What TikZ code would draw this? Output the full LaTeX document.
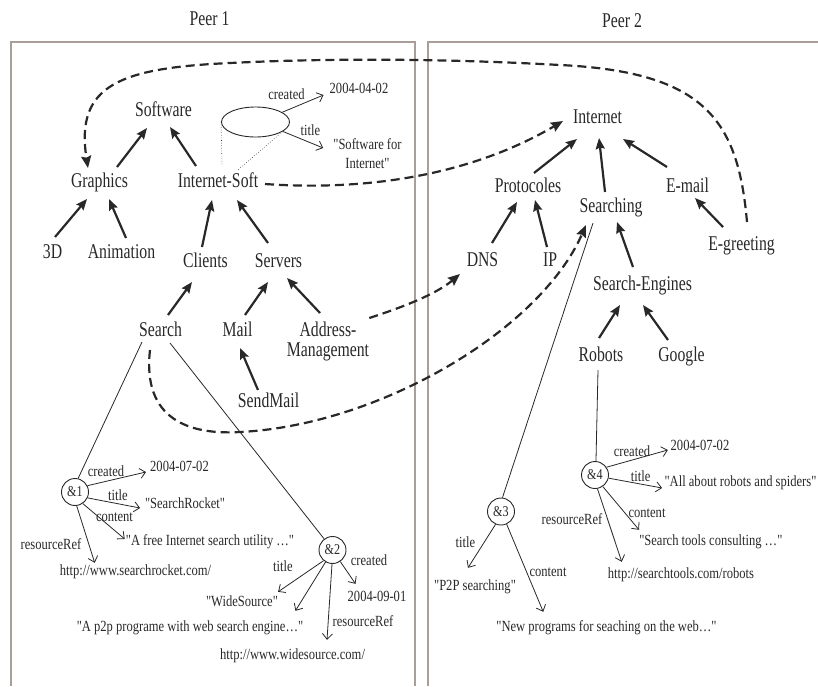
\documentclass[tikz,border=0pt]{standalone}
\usepackage{fontspec}
\setmainfont{Liberation Serif}[FakeStretch=0.75]
\newfontfamily\smallfont{Liberation Serif}[FakeStretch=0.81]
\usetikzlibrary{arrows.meta,calc,shapes.geometric}
\definecolor{ink}{RGB}{40,40,40}
\definecolor{framec}{RGB}{170,158,152}
\tikzset{
  lbl/.style={font=\fontsize{21}{19.5}\selectfont, text=ink, inner sep=0pt, text height=13pt, text depth=4pt, anchor=base},
  sml/.style={font=\smallfont\fontsize{15.5}{19.5}\selectfont, text=ink, inner sep=0pt, text height=10pt, text depth=3pt, anchor=base},
  amp/.style={circle, draw=ink, line width=0.9pt, minimum size=27pt, inner sep=0pt, font=\smallfont\fontsize{15}{15}\selectfont, text=ink},
  mainarrow/.style={draw=ink, line width=2.2pt, -{Stealth[length=11pt,width=9pt,inset=1.5pt]}},
  dasharrow/.style={draw=ink, line width=2.2pt, dash pattern=on 9pt off 5pt, -{Stealth[length=12pt,width=10pt,inset=1.5pt]}},
  thinline/.style={draw=ink, line width=0.8pt},
  thinarrow/.style={draw=ink, line width=0.8pt, -{Straight Barb[length=5.5pt,width=10pt]}},
  dotline/.style={draw=ink, line width=0.6pt, dotted},
  panel/.style={draw=framec, line width=1.2pt}
}
\begin{document}
\begin{tikzpicture}[x=1pt,y=-1pt]
\useasboundingbox (0,0) rectangle (818,686);
% panels
\draw[panel] (11,686) -- (11,42) -- (415,42) -- (415,686);
\draw[panel] (428,686) -- (428,42) -- (818,42);
% peer titles
\node[lbl] (peer1) at (209.5,25) {Peer 1};
\node[lbl] (peer2) at (622,27) {Peer 2};
% peer 1 nodes
\node[lbl] (soft) at (163.5,116) {Software};
\node[lbl] (graphics) at (99.5,187) {Graphics};
\node[lbl] (isoft) at (218,187) {Internet-Soft};
\node[lbl] (d3) at (52.5,258) {3D};
\node[lbl] (anim) at (121.5,258) {Animation};
\node[lbl] (clients) at (205.5,267) {Clients};
\node[lbl] (servers) at (278.5,267) {Servers};
\node[lbl] (search) at (160.5,336) {Search};
\node[lbl] (mail) at (237.5,336) {Mail};
\node[font=\fontsize{21}{19.5}\selectfont, text=ink, inner sep=0pt, align=center, anchor=north] (addr) at (328,322) {Address-\\Management};
\node[lbl] (sendmail) at (268.5,407) {SendMail};
% peer 2 nodes
\node[lbl] (internet) at (597.5,123) {Internet};
\node[lbl] (protocoles) at (528,192) {Protocoles};
\node[lbl] (email) at (687.5,192) {E-mail};
\node[lbl] (searching) at (611,212) {Searching};
\node[lbl] (egreet) at (741.5,250.5) {E-greeting};
\node[lbl] (dns) at (482.5,266) {DNS};
\node[lbl] (ip) at (550,266) {IP};
\node[lbl] (seng) at (642.5,290) {Search-Engines};
\node[lbl] (robots) at (601,361) {Robots};
\node[lbl] (google) at (681.5,361) {Google};
% ellipse with metadata
\node[ellipse, draw=ink, line width=0.9pt, minimum width=68pt, minimum height=30pt, inner sep=0pt] (ell) at (255.5,122) {};
\node[sml] (lc0) at (286.5,99) {created};
\node[sml] (lt0) at (310.5,135) {title};
\node[sml] (vdate0) at (359,93) {2004-04-02};
\node[font=\smallfont\fontsize{15.5}{19.5}\selectfont, text=ink, inner sep=0pt, align=center, anchor=north] (vsoftint) at (367.5,138) {"Software for\\Internet"};
% resource circles
\node[amp] (amp1) at (75,492) {\&1};
\node[amp] (amp2) at (332.5,550) {\&2};
\node[amp] (amp3) at (501,511.5) {\&3};
\node[amp] (amp4) at (595,475) {\&4};
% &1 labels and values
\node[sml] (l1c) at (106,476) {created};
\node[sml] (v1c) at (179.5,471.7) {2004-07-02};
\node[sml] (l1t) at (118,500) {title};
\node[sml] (v1t) at (185,508) {"SearchRocket"};
\node[sml] (l1x) at (114.5,521.7) {content};
\node[sml] (v1x) at (210,545) {"A free Internet search utility \ldots"};
\node[sml] (l1r) at (51,549) {resourceRef};
\node[sml] (v1r) at (135.5,575) {http://www.searchrocket.com/};
% &2
\node[sml] (l2t) at (283,571.7) {title};
\node[sml] (l2c) at (369,565.7) {created};
\node[sml] (v2t) at (242,606) {"WideSource"};
\node[sml] (v2c) at (377,601.7) {2004-09-01};
\node[sml] (v2x) at (190,631) {"A p2p programe with web search engine\ldots"};
\node[sml] (l2r) at (363,626.7) {resourceRef};
\node[sml] (v2r) at (292.5,659) {http://www.widesource.com/};
% &3
\node[sml] (l3t) at (465.5,547.7) {title};
\node[sml] (v3t) at (475,590.5) {"P2P searching"};
\node[sml] (l3x) at (548,576.7) {content};
\node[sml] (v3x) at (606.5,631) {"New programs for seaching on the web\ldots"};
% &4
\node[sml] (l4c) at (632,456) {created};
\node[sml] (v4c) at (700,450) {2004-07-02};
\node[sml] (l4t) at (640.7,481.7) {title};
\node[sml] (v4t) at (740.5,486) {"All about robots and spiders"};
\node[sml] (l4r) at (572,524) {resourceRef};
\node[sml] (l4x) at (647,517.7) {content};
\node[sml] (v4x) at (710.8,545) {"Search tools consulting \ldots"};
\node[sml] (v4r) at (681,578) {http://searchtools.com/robots};
% main arrows peer 1
\draw[mainarrow] ($(d3)+(2.5,-16.5)$) -- ($(graphics)+(-12.5,16.5)$);
\draw[mainarrow] ($(anim)+(4.5,-15.5)$) -- ($(graphics)+(9.5,16.5)$);
\draw[mainarrow] ($(graphics)+(17.5,-15.5)$) -- ($(soft)+(-16.5,16.5)$);
\draw[mainarrow] ($(isoft)+(-22,-16.5)$) -- ($(soft)+(6.5,15.5)$);
\draw[mainarrow] ($(clients)+(-3.5,-15.5)$) -- ($(isoft)+(-6,17.5)$);
\draw[mainarrow] ($(servers)+(-10.5,-19.5)$) -- ($(isoft)+(19,17.5)$);
\draw[mainarrow] ($(search)+(7.5,-16.5)$) -- ($(clients)+(-13.5,19.5)$);
\draw[mainarrow] ($(mail)+(7.5,-16.5)$) -- ($(servers)+(-10.5,19.5)$);
\draw[mainarrow] ($(addr.north)+(-8,-9)$) -- ($(servers)+(8.5,15.5)$);
\draw[mainarrow] ($(sendmail)+(-10.5,-12.5)$) -- ($(mail)+(2.5,16.5)$);
% main arrows peer 2
\draw[mainarrow] ($(protocoles)+(6,-14.5)$) -- ($(internet)+(-20.5,20.5)$);
\draw[mainarrow] ($(searching)+(-6,-15.5)$) -- ($(internet)+(1.5,19.5)$);
\draw[mainarrow] ($(email)+(-20.5,-20.5)$) -- ($(internet)+(25.5,20.5)$);
\draw[mainarrow] ($(dns)+(9.5,-18.5)$) -- ($(protocoles)+(-11,14.5)$);
\draw[mainarrow] ($(ip)+(-3,-14.5)$) -- ($(protocoles)+(7,12.5)$);
\draw[mainarrow] ($(egreet)+(-18.5,-19)$) -- ($(email)+(7.5,10.5)$);
\draw[mainarrow] ($(seng)+(-9.5,-18.5)$) -- ($(searching)+(6,14.5)$);
\draw[mainarrow] ($(robots)+(-2,-18.5)$) -- ($(seng)+(-22.5,19.5)$);
\draw[mainarrow] ($(google)+(-13.5,-16.5)$) -- ($(seng)+(0.5,19.5)$);
% dashed mappings
\draw[dasharrow] ($(isoft)+(47,1.5)$) .. controls (380,192) and (480,170) .. ($(internet)+(-34.5,2.5)$);
\draw[dasharrow] ($(addr.north east)+(0,-4)$) .. controls (400,308) and (435,295) .. ($(dns)+(-22.5,12.5)$);
\draw[dasharrow] ($(search)+(-10.5,18.5)$) .. controls (142,420) and (190,435) .. (240,432) .. controls (380,425) and (540,330) .. ($(searching)+(-25,17.5)$);
\draw[dasharrow] ($(egreet)+(5.5,-24)$) .. controls (738,120) and (705,72) .. (560,65) .. controls (470,60) and (350,57) .. (230,63) .. controls (120,68) and (75,85) .. ($(graphics)+(-11.5,-14.5)$);
% thin lines to resources
\draw[thinline] ($(search)+(-18.5,10.5)$) -- (amp1.77);
\draw[thinline] ($(search)+(9.5,11.5)$) -- (amp2.127);
\draw[thinline] ($(searching)+(-18,15.5)$) -- (amp3.84);
\draw[thinline] ($(robots)+(-3,13.5)$) -- (amp4.86);
% ellipse
\draw[dotline] (ell.west) -- ($(isoft)+(4,-17.5)$);
\draw[dotline] (ell.-20) -- ($(isoft)+(20,-12.5)$);
\draw[thinarrow] (ell.20) -- ($(vdate0.west)+(-6,5.5)$);
\draw[thinarrow] (ell.-19) -- ($(vsoftint.north west)+(-10,10)$);
% &1
\draw[thinarrow] (amp1.27) -- ($(v1c.west)+(-4,3.8)$);
\draw[thinarrow] (amp1.-25) -- ($(v1t.west)+(-4.7,3.5)$);
\draw[thinarrow] (amp1.-56) -- ($(v1x.west)+(-1,-2.5)$);
\draw[thinarrow] (amp1.-83) -- ($(v1r.north west)+(35,-2)$);
% &2
\draw[thinarrow] (amp2.-130) -- ($(v2t.north east)+(0,-4)$);
\draw[thinarrow] (amp2.-120) -- ($(v2x.north east)+(-8,-10)$);
\draw[thinarrow] (amp2.-92) -- ($(v2r.north)+(34.5,-9)$);
\draw[thinarrow] (amp2.-56) -- ($(v2c.north west)+(8,-7.7)$);
% &3
\draw[thinarrow] (amp3.-113) -- ($(v3t.north)+(-7,-12.5)$);
\draw[thinarrow] (amp3.-66) -- ($(v3x.north west)+(47,-9)$);
% &4
\draw[thinarrow] (amp4.34) -- ($(v4c.west)+(-2.7,3.5)$);
\draw[thinarrow] (amp4.-13) -- ($(v4t.west)+(-2.3,5.5)$);
\draw[thinarrow] (amp4.-56) -- ($(v4x.north west)+(0,-5)$);
\draw[thinarrow] (amp4.-80) -- ($(v4r.north west)+(14,-6)$);
\end{tikzpicture}
\end{document}
